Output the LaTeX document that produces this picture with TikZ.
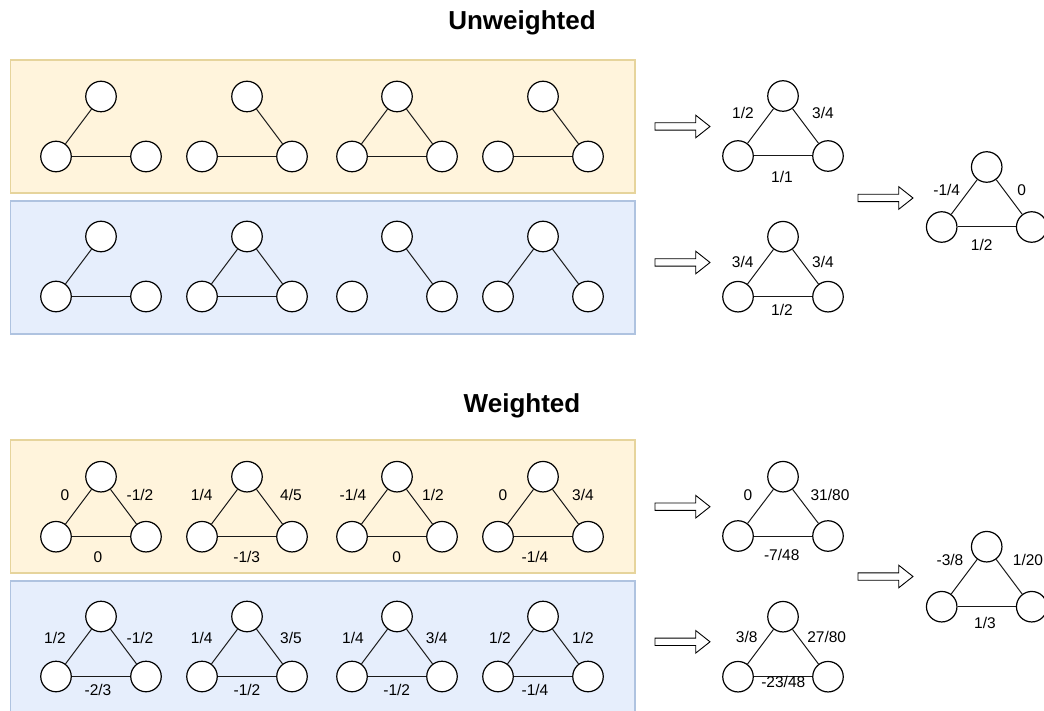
\documentclass[tikz,border=0pt]{standalone}
\usepackage{fontspec}
\setmainfont{Liberation Sans}
\definecolor{ybox}{HTML}{FFF4DC}
\definecolor{yline}{HTML}{E6D49C}
\definecolor{bbox}{HTML}{E6EEFC}
\definecolor{bline}{HTML}{AFC3E0}
\tikzset{
  vtx/.style={circle, draw=black, fill=white, line width=1.2pt, minimum size=30.5pt, inner sep=0pt},
  edge/.style={draw=black!90, line width=1pt},
  lbl/.style={font=\fontsize{15.5}{16}\selectfont, inner sep=0pt, text height=11.1pt, text depth=0pt, anchor=center},
  ttl/.style={font=\fontsize{26}{27}\selectfont\bfseries, inner sep=0pt, text height=18.6pt, text depth=0pt, anchor=center},
  yellowpanel/.style={fill=ybox, draw=yline, line width=1.2pt},
  bluepanel/.style={fill=bbox, draw=bline, line width=1.2pt},
  fatarrow/.pic={\draw[line width=0.9pt, fill=white] (0,-3.7) -- (40.7,-3.7) -- (40.7,-11.3) -- (55,0) -- (40.7,11.3) -- (40.7,3.7) -- (0,3.7) -- cycle;}
}
% three vertices of a triangle: name, centre x, top y, bottom y
\newcommand{\trivtx}[4]{%
  \node[vtx] (#1t) at (#2,#3) {};
  \node[vtx] (#1l) at ({#2-45},#4) {};
  \node[vtx] (#1r) at ({#2+45},#4) {};
}
\newcommand{\fulltri}[1]{%
  \draw[edge] (#1t) -- (#1l);
  \draw[edge] (#1t) -- (#1r);
  \draw[edge] (#1l) -- (#1r);
}
\begin{document}
\begin{tikzpicture}[x=1pt, y=-1pt]
\useasboundingbox (0,0) rectangle (1044,711);

% panels
\draw[yellowpanel] (10.7,60) rectangle (635,193);
\draw[bluepanel]   (10.7,201) rectangle (635,334);
\draw[yellowpanel] (10.7,440) rectangle (635,573);
\draw[bluepanel]   (10.7,581) rectangle (635,716);

% titles
\node[ttl] (tu) at (522,20) {Unweighted};
\node[ttl] (tw) at (522,403.3) {Weighted};

% ---------- unweighted ----------
\trivtx{ua}{101}{96.5}{156.5}
\trivtx{ub}{247}{96.5}{156.5}
\trivtx{uc}{397}{96.5}{156.5}
\trivtx{ud}{543}{96.5}{156.5}
\draw[edge] (uat) -- (ual); \draw[edge] (ual) -- (uar);
\draw[edge] (ubt) -- (ubr); \draw[edge] (ubl) -- (ubr);
\fulltri{uc}
\draw[edge] (udt) -- (udr); \draw[edge] (udl) -- (udr);

\trivtx{ue}{101}{236.5}{296.5}
\trivtx{uf}{247}{236.5}{296.5}
\trivtx{ug}{397}{236.5}{296.5}
\trivtx{uh}{543}{236.5}{296.5}
\draw[edge] (uet) -- (uel); \draw[edge] (uel) -- (uer);
\fulltri{uf}
\draw[edge] (ugt) -- (ugr);
\draw[edge] (uht) -- (uhl); \draw[edge] (uht) -- (uhr);

\pic at (655,126.5) {fatarrow};
\pic at (655,262.5) {fatarrow};
\pic at (858,198) {fatarrow};

\trivtx{ur}{783}{96}{156}
\fulltri{ur}
\node[lbl] (ur1) at (743,113) {1/2};
\node[lbl] (ur2) at (823,113) {3/4};
\node[lbl] (ur3) at (782,177) {1/1};

\trivtx{us}{783}{236.7}{296.7}
\fulltri{us}
\node[lbl] (us1) at (742.7,261.7) {3/4};
\node[lbl] (us2) at (823,261.7) {3/4};
\node[lbl] (us3) at (782,310) {1/2};

\trivtx{uz}{986.7}{167}{227}
\fulltri{uz}
\node[lbl] (uz1) at (946.7,190) {-1/4};
\node[lbl] (uz2) at (1021.7,190) {0};
\node[lbl] (uz3) at (981.7,245) {1/2};

% ---------- weighted ----------
\trivtx{wa}{101}{476.7}{536.7} \fulltri{wa}
\trivtx{wb}{247}{476.7}{536.7} \fulltri{wb}
\trivtx{wc}{397}{476.7}{536.7} \fulltri{wc}
\trivtx{wd}{543}{476.7}{536.7} \fulltri{wd}
\node[lbl] at (65,495) {0};      \node[lbl] at (140,495) {-1/2};  \node[lbl] at (98,556.7) {0};
\node[lbl] at (201.7,495) {1/4}; \node[lbl] at (291,495) {4/5};   \node[lbl] at (246.7,556.7) {-1/3};
\node[lbl] at (353,495) {-1/4};  \node[lbl] at (433,495) {1/2};   \node[lbl] at (396.7,556.7) {0};
\node[lbl] at (503,495) {0};     \node[lbl] at (583,495) {3/4};   \node[lbl] at (535,556.7) {-1/4};

\trivtx{we}{101}{616.5}{676.5} \fulltri{we}
\trivtx{wf}{247}{616.5}{676.5} \fulltri{wf}
\trivtx{wg}{397}{616.5}{676.5} \fulltri{wg}
\trivtx{wh}{543}{616.5}{676.5} \fulltri{wh}
\node[lbl] at (55,638) {1/2};    \node[lbl] at (140,638) {-1/2};  \node[lbl] at (98,690) {-2/3};
\node[lbl] at (201.7,638) {1/4}; \node[lbl] at (291,638) {3/5};   \node[lbl] at (247,690) {-1/2};
\node[lbl] at (353,638) {1/4};   \node[lbl] at (436.7,638) {3/4}; \node[lbl] at (396.7,690) {-1/2};
\node[lbl] at (500,638) {1/2};   \node[lbl] at (583,638) {1/2};   \node[lbl] at (535,690) {-1/4};

\pic at (655,506.7) {fatarrow};
\pic at (655,641.8) {fatarrow};
\pic at (858,576.5) {fatarrow};

\trivtx{wr}{783}{476.7}{536}
\fulltri{wr}
\node[lbl] at (748,495) {0};
\node[lbl] at (830,495) {31/80};
\node[lbl] at (781.7,555) {-7/48};

\trivtx{ws}{783}{616.7}{676.7}
\fulltri{ws}
\node[lbl] at (746.7,637.3) {3/8};
\node[lbl] at (826.7,637.3) {27/80};
\node[lbl] at (783.3,681.7) {-23/48};

\trivtx{wz}{986.7}{546.7}{606.7}
\fulltri{wz}
\node[lbl] at (950,560) {-3/8};
\node[lbl] at (1028,560) {1/20};
\node[lbl] at (985,623) {1/3};
\end{tikzpicture}
\end{document}
